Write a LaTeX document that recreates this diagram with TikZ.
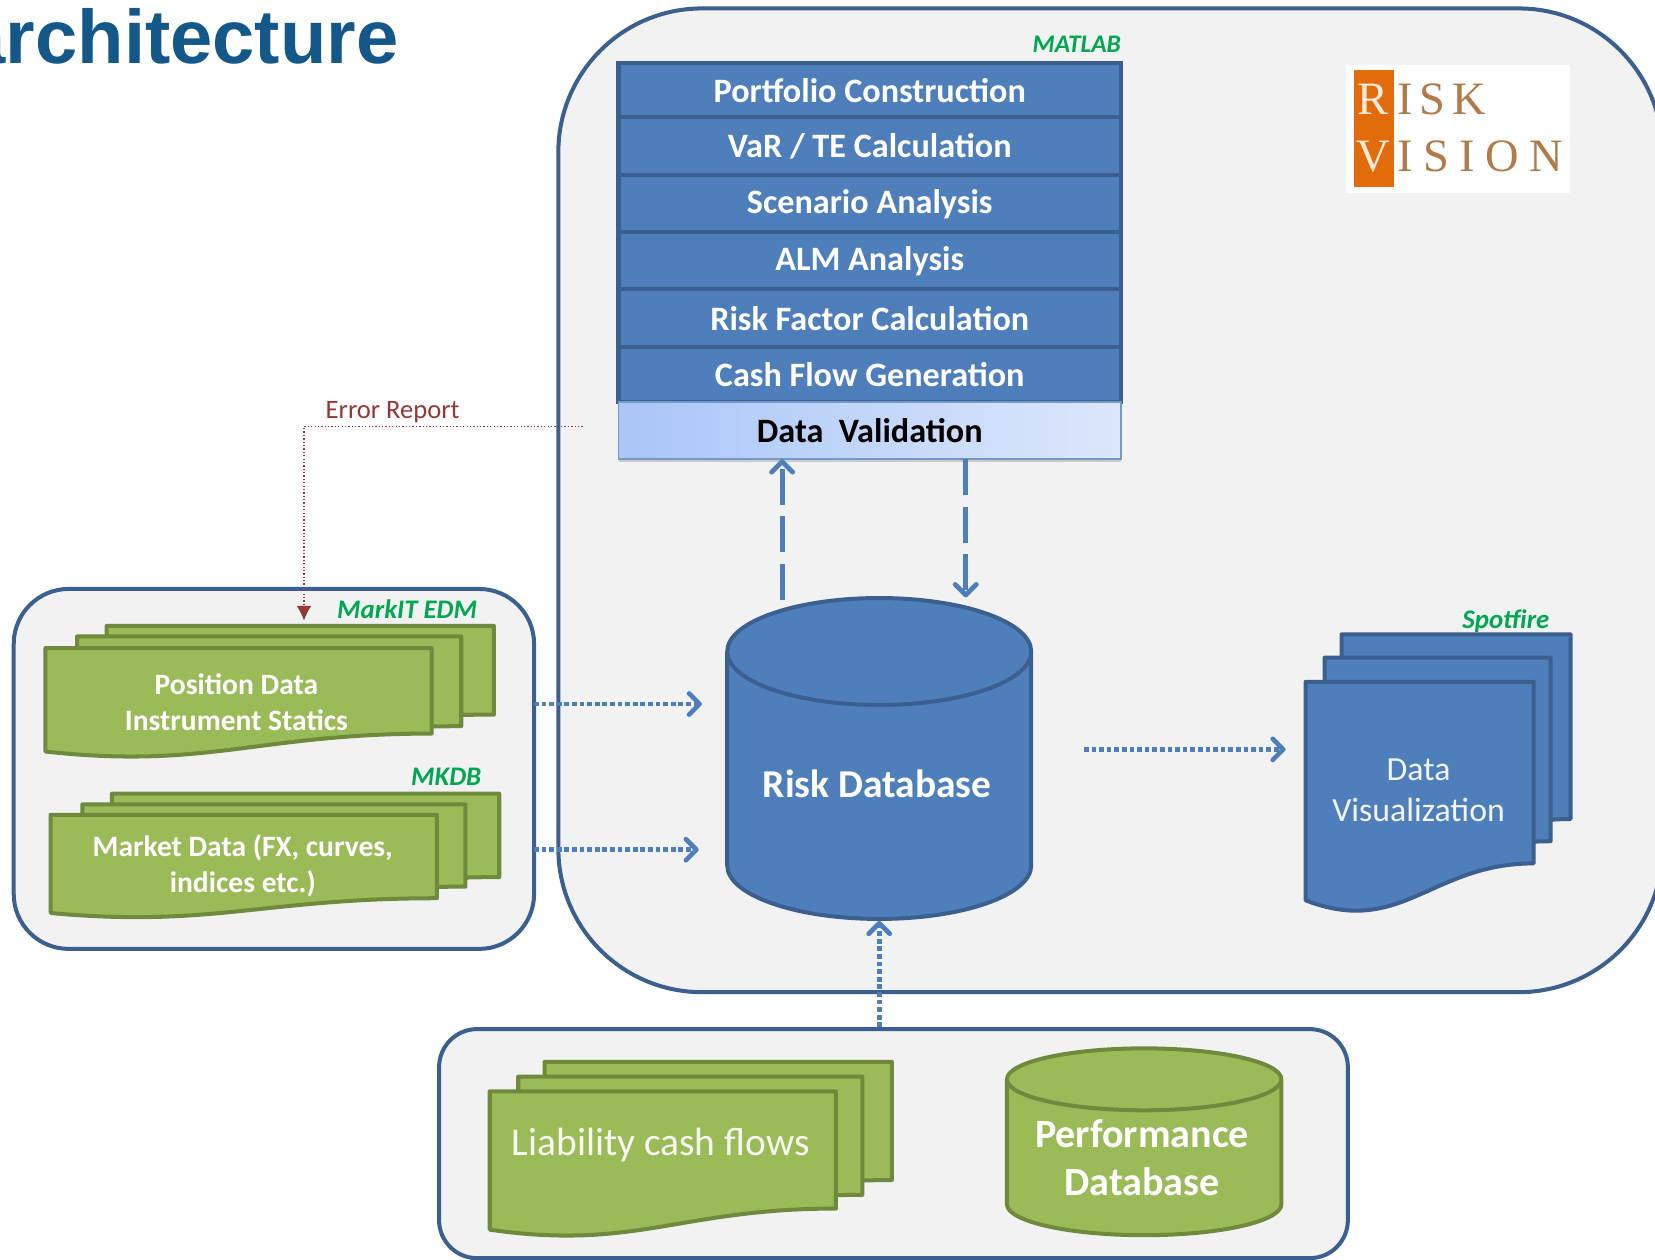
\documentclass[tikz,border=0pt]{standalone}
\usepackage{fontspec}
\usepackage{xcolor}
\usetikzlibrary{shapes,arrows.meta,positioning,shadows}
\setmainfont{Carlito}
\newfontfamily\titlefont{Liberation Sans}
\newfontfamily\logofont{Liberation Serif}
\definecolor{panelline}{HTML}{3B5F8E}
\definecolor{panelfill}{HTML}{F2F2F2}
\definecolor{boxblue}{HTML}{4F7FBB}
\definecolor{boxgreen}{HTML}{9BBB59}
\definecolor{linegreen}{HTML}{6F8A3C}
\definecolor{tagtext}{HTML}{00A651}
\definecolor{errred}{HTML}{953735}
\definecolor{titleblue}{HTML}{135888}
\definecolor{logoorange}{HTML}{E26B0A}
\definecolor{logotext}{HTML}{B27A48}
\definecolor{validleft}{HTML}{A9C6F8}
\definecolor{validright}{HTML}{DDE7FB}
% page document: left, right, top, y at left bottom, y at right bottom, style
\newcommand{\wavedoc}[6]{
    \draw[#6] (#1,#3) -- (#2,#3) -- (#2,#5)
        .. controls ({#1+0.55*(#2-#1)},#5) and ({#1+0.42*(#2-#1)},{#4+1.0*(#4-#5)}) .. (#1,#4) -- cycle;
}
\begin{document}
\begin{tikzpicture}[
    x=0.5pt, y=-0.5pt,
    panel/.style={rectangle, draw=panelline, line width=1.9pt, fill=panelfill},
    row/.style={rectangle, draw=panelline, line width=2pt, fill=boxblue, outer sep=0pt, minimum width=238pt, minimum height=27pt, text=white, font=\bfseries\fontsize{16.2}{19}\selectfont},
    bluedoc/.style={draw=panelline, line width=1.9pt, fill=boxblue, line join=round},
    greendoc/.style={draw=linegreen, line width=1.9pt, fill=boxgreen, line join=round},
    doctext/.style={align=center, text=white, font=\bfseries\fontsize{14}{17}\selectfont},
    tag/.style={anchor=east, text=tagtext, font=\bfseries\itshape\fontsize{12.7}{14}\selectfont},
    dbshape/.style={cylinder, shape border rotate=90, line width=1.9pt},
    flow/.style={draw=boxblue, line width=2.2pt, dash pattern=on 2.2pt off 1.4pt, -{Straight Barb[length=5pt,width=10pt,line width=2.2pt,round]}},
    dashflow/.style={draw=boxblue, line width=2.3pt, dash pattern=on 17pt off 5.5pt, -{Straight Barb[length=5pt,width=10pt,line width=2.3pt,round]}}
]
    \useasboundingbox (0,0) rectangle (1568,1193);

    % Title
    \node[anchor=base east, inner sep=0pt, text=titleblue, font=\titlefont\bfseries\fontsize{36}{40}\selectfont] (title) at (378,60) {architecture};

    % Panels
    \node[panel, rounded corners=68pt, minimum width=523pt, minimum height=466pt] (riskpanel) at (1052,474) {};
    \node[panel, rounded corners=26pt, minimum width=246.5pt, minimum height=170.5pt] (sourcepanel) at (259.5,728.5) {};
    \node[panel, rounded corners=18pt, minimum width=430.5pt, minimum height=108.5pt] (otherpanel) at (846.5,1083.5) {};

    % Calculation stack
    \node[tag, font=\bfseries\itshape\fontsize{12}{14}\selectfont] (matlab) at (1069,42) {MATLAB};
    \node[row, minimum height=25.5pt] (portfolio) at (824,85.5) {Portfolio Construction};
    \node[row, minimum height=27.5pt, below=0pt of portfolio] (var) {VaR / TE Calculation};
    \node[row, below=0pt of var] (scenario) {Scenario Analysis};
    \node[row, below=0pt of scenario] (alm) {ALM Analysis};
    \node[row, minimum height=27.5pt, below=0pt of alm] (factor) {Risk Factor Calculation};
    \node[row, minimum height=26pt, below=0pt of factor] (cashflow) {Cash Flow Generation};
    \node[row, below=0pt of cashflow, draw=boxblue!80, line width=0.9pt, left color=validleft, right color=validright, text=black, drop shadow={opacity=0.35, shadow xshift=0pt, shadow yshift=-1.5pt}] (validation) {Data\ \ Validation};

    % Logo
    \node[rectangle, fill=white, minimum width=106pt, minimum height=60.5pt] (logo) at (1381,122.5) {};
    \node[rectangle, fill=logoorange, minimum width=19pt, minimum height=55.5pt] (logobar) at (1302,121.5) {};
    \node[inner sep=0pt, text=white!85!logoorange, font=\logofont\fontsize{22}{24}\selectfont] (logor) at (1301,94) {R};
    \node[inner sep=0pt, text=white!85!logoorange, font=\logofont\fontsize{22}{24}\selectfont] (logov) at (1301,148) {V};
    \node[inner sep=0pt, anchor=west, text=logotext, font=\logofont\fontsize{22}{24}\selectfont\addfontfeature{LetterSpace=14}] (logorisk) at (1324,94) {ISK};
    \node[inner sep=0pt, anchor=west, text=logotext, font=\logofont\fontsize{22}{24}\selectfont\addfontfeature{LetterSpace=22}] (logovision) at (1324,148) {ISION};

    % Source documents
    \node[tag] (edmtag) at (459,577) {MarkIT EDM};
    \wavedoc{101}{468}{593}{695}{677}{greendoc}
    \wavedoc{73}{437}{603}{705}{688}{greendoc}
    \wavedoc{43}{409}{614}{712}{695}{greendoc}
    \node[doctext] (position) at (224,665) {Position Data\\Instrument Statics};
    \node[tag] (mkdbtag) at (463,736) {MKDB};
    \wavedoc{106}{473}{752}{848}{831}{greendoc}
    \wavedoc{78}{441}{762}{857}{840}{greendoc}
    \wavedoc{48}{414}{772}{865}{851}{greendoc}
    \node[doctext] (market) at (230,820) {Market Data (FX, curves,\\indices etc.)};

    % Risk database
    \node[dbshape, shape aspect=7.6, draw=panelline, fill=boxblue, minimum width=144pt, minimum height=152pt] (riskdb) at (833,752.5) {};
    \node[text=white, font=\bfseries\fontsize{18.7}{20}\selectfont] (risktext) at (831,743) {Risk Database};

    % Visualization documents
    \wavedoc{1271}{1488}{601}{800}{776}{bluedoc}
    \wavedoc{1255}{1469}{623}{820}{797}{bluedoc}
    \wavedoc{1237}{1453}{646}{853}{818}{bluedoc}
    \node[tag] (spotfire) at (1475,589) {Spotfire};
    \node[align=center, text=white!92!boxblue, font=\fontsize{16}{19.5}\selectfont] (visual) at (1344,749) {Data\\Visualization};

    % Other sources
    \wavedoc{516}{845}{1006}{1138}{1118}{greendoc}
    \wavedoc{491}{817}{1020}{1152}{1132}{greendoc}
    \wavedoc{464}{792}{1034}{1165}{1145}{greendoc}
    \node[text=white!92!boxgreen, font=\fontsize{18.7}{20}\selectfont] (liability) at (626,1085) {Liability cash flows};
    \node[dbshape, shape aspect=4.4, draw=linegreen, fill=boxgreen, minimum width=130pt, minimum height=88.5pt] (perfdb) at (1084,1102) {};
    \node[align=center, text=white, font=\bfseries\fontsize{19}{22.5}\selectfont] (perftext) at (1082,1097) {Performance\\Database};

    % Free ends
    \coordinate (edmout) at (506,667);
    \coordinate (edmin) at (665,667);
    \coordinate (mkdbout) at (506,805);
    \coordinate (mkdbin) at (662,805);
    \coordinate (visout) at (1027,710);
    \coordinate (visin) at (1218,710);
    \coordinate (upfoot) at (741,568);
    \coordinate (downfoot) at (915,566);
    \coordinate (errstart) at (552,404);
    \coordinate (errend) at (288,588);

    % Connections
    \draw[flow] (edmout) -- (edmin);
    \draw[flow] (mkdbout) -- (mkdbin);
    \draw[flow] (visout) -- (visin);
    \draw[flow] (otherpanel.north -| riskdb.south) -- (riskdb.south);
    \draw[dashflow] (upfoot) -- (upfoot |- validation.south);
    \draw[dashflow] (downfoot |- validation.south) -- (downfoot);
    \draw[errred, line width=0.6pt, densely dotted, -{Latex[length=7pt,width=7pt]}] (errstart) -| (errend);
    \node[text=errred, font=\fontsize{12.6}{14}\selectfont] (errtext) at (372,390) {Error Report};
\end{tikzpicture}
\end{document}
